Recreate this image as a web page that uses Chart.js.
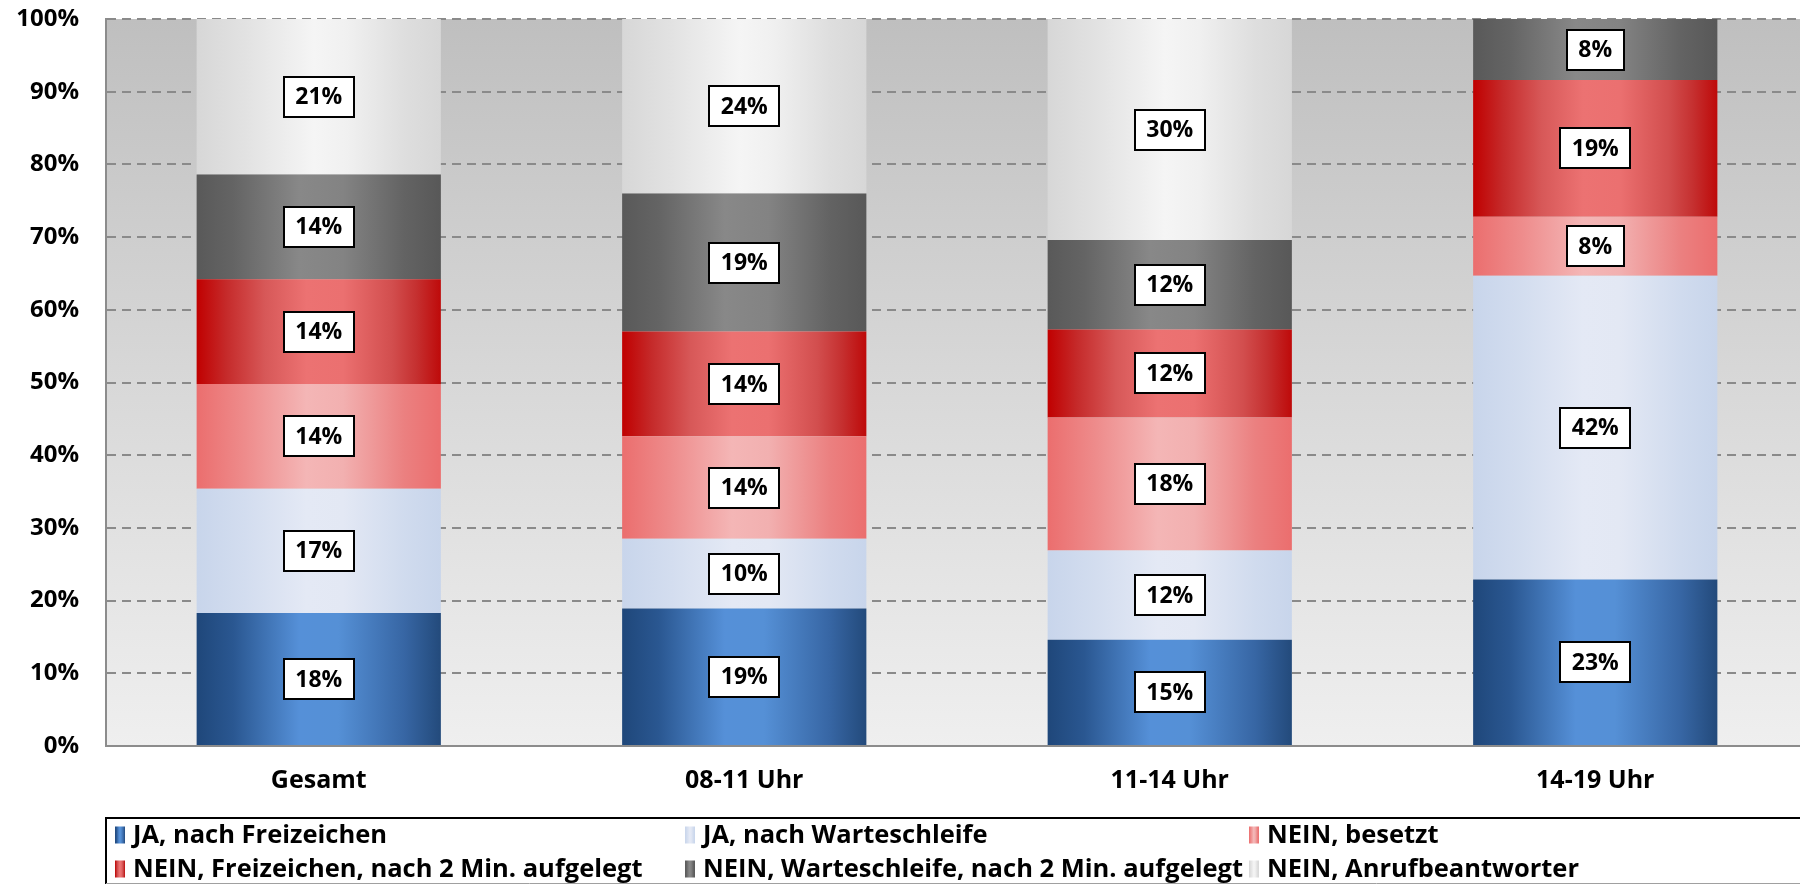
<!DOCTYPE html>
<html lang="de">
<head>
<meta charset="utf-8">
<title>Erreichbarkeit nach Uhrzeit</title>
<script src="https://cdn.jsdelivr.net/npm/chart.js@4/dist/chart.umd.min.js"></script>
<style>
  html, body { margin: 0; padding: 0; background: #ffffff; }
  #wrap { width: 1800px; height: 884px; position: relative; }
</style>
</head>
<body>
<div id="wrap"><canvas id="chart" width="1800" height="884"></canvas></div>
<script>
// Kategorien (Zeitfenster)
const categories = ['Gesamt', '08-11 Uhr', '11-14 Uhr', '14-19 Uhr'];

// Anteile je Ergebnis in Prozent (von unten nach oben gestapelt)
const jaFreizeichen        = [18.3, 18.9, 14.6, 22.9];
const jaWarteschleife      = [17.1,  9.6, 12.3, 41.8];
const neinBesetzt          = [14.4, 14.1, 18.3,  8.1];
const neinFreizeichen      = [14.4, 14.4, 12.1, 18.8];
const neinWarteschleife    = [14.4, 19.0, 12.3,  8.4];
const neinAnrufbeantworter = [21.4, 24.0, 30.4,  0];

// Reihennamen
const seriesLabels = [
  'JA, nach Freizeichen',
  'JA, nach Warteschleife',
  'NEIN, besetzt',
  'NEIN, Freizeichen, nach 2 Min. aufgelegt',
  'NEIN, Warteschleife, nach 2 Min. aufgelegt',
  'NEIN, Anrufbeantworter'
];

// Achsenbeschriftung
const yTickLabels = ['0%', '10%', '20%', '30%', '40%', '50%', '60%', '70%', '80%', '90%', '100%'];

const FONT = '"Open Sans", Lato, sans-serif';
const BAR_PCT = 0.574;
// Der Diagrammbereich läuft rechts etwas über den Rand hinaus
const PLOT_RIGHT = 1808;

// Horizontale Farbverläufe (Zylinder-Optik) je Reihe
const gradientStops = [
  [[0, '#1f477a'], [0.15, '#2a5791'], [0.42, '#5590d8'], [0.58, '#5590d6'], [0.85, '#3766a4'], [1, '#234a7b']],
  [[0, '#c8d5eb'], [0.2, '#d3ddef'], [0.45, '#e4e9f5'], [0.6, '#e3e8f4'], [0.85, '#d0dbee'], [1, '#c8d5eb']],
  [[0, '#eb6e6e'], [0.2, '#ee8c8c'], [0.45, '#f4b6b6'], [0.6, '#f2b0b0'], [0.85, '#eb8080'], [1, '#eb6e6e']],
  [[0, '#c00000'], [0.12, '#c52a2a'], [0.28, '#d75858'], [0.45, '#ec7272'], [0.6, '#eb7070'], [0.8, '#d24e4e'], [0.9, '#c53030'], [1, '#be0a0a']],
  [[0, '#595959'], [0.15, '#646464'], [0.42, '#888888'], [0.6, '#838383'], [0.85, '#636363'], [1, '#585858']],
  [[0, '#d7d7d7'], [0.2, '#e2e2e2'], [0.48, '#f5f5f5'], [0.62, '#f0f0f0'], [0.85, '#dedede'], [1, '#d7d7d7']]
];

function barFill(stops) {
  const fallback = stops[Math.floor(stops.length / 2)][1];
  return (ctx) => {
    const chart = ctx.chart;
    const xs = chart.scales && chart.scales.x;
    if (!xs || ctx.type !== 'data') return fallback;
    const cx = xs.getPixelForValue(ctx.dataIndex);
    const half = xs.width / categories.length * BAR_PCT / 2;
    if (!isFinite(cx) || !isFinite(half) || half <= 0) return fallback;
    const g = chart.ctx.createLinearGradient(cx - half, 0, cx + half, 0);
    stops.forEach(([o, c]) => g.addColorStop(o, c));
    return g;
  };
}

const seriesValues = [jaFreizeichen, jaWarteschleife, neinBesetzt, neinFreizeichen, neinWarteschleife, neinAnrufbeantworter];

const datasets = seriesValues.map((vals, i) => ({
  label: seriesLabels[i],
  data: vals,
  backgroundColor: barFill(gradientStops[i]),
  borderWidth: 0,
  stack: 'all',
  categoryPercentage: 1,
  barPercentage: BAR_PCT
}));

// Diagrammbereich nach rechts über den Canvasrand verlängern
const extendRight = {
  id: 'extendRight',
  afterLayout(chart) {
    const xs = chart.scales.x;
    if (!xs) return;
    xs.right = PLOT_RIGHT;
    xs.width = xs.right - xs.left;
    xs.configure();
    chart.chartArea.right = PLOT_RIGHT;
    chart.chartArea.width = PLOT_RIGHT - chart.chartArea.left;
    const ys = chart.scales.y;
    if (ys) ys._gridLineItems = null;
  }
};

// Hintergrund: weiße Fläche und grauer Verlauf im Diagrammbereich
const plotBackground = {
  id: 'plotBackground',
  beforeDraw(chart) {
    const { ctx, chartArea: a } = chart;
    ctx.save();
    ctx.fillStyle = '#ffffff';
    ctx.fillRect(0, 0, chart.width, chart.height);
    const g = ctx.createLinearGradient(0, a.top, 0, a.bottom);
    g.addColorStop(0, '#bfbfbf');
    g.addColorStop(0.5, '#d8d8d8');
    g.addColorStop(1, '#efefef');
    ctx.fillStyle = g;
    ctx.fillRect(a.left, a.top, a.right - a.left, a.bottom - a.top);
    ctx.restore();
  }
};

// Wertbeschriftungen in weißen Kästchen
const valueBoxes = {
  id: 'valueBoxes',
  afterDatasetsDraw(chart) {
    const c = chart.ctx;
    c.save();
    c.font = 'bold 23px ' + FONT;
    c.textAlign = 'center';
    c.textBaseline = 'middle';
    chart.data.datasets.forEach((ds, di) => {
      const meta = chart.getDatasetMeta(di);
      meta.data.forEach((el, i) => {
        const v = ds.data[i];
        if (!v) return;
        const { x, y, base } = el.getProps(['x', 'y', 'base'], true);
        const cy = (y + base) / 2;
        const txt = Math.round(v) + '%';
        const w = Math.round(c.measureText(txt).width + 23);
        const h = 40;
        const bx = Math.round(x - w / 2), by = Math.round(cy - h / 2);
        c.fillStyle = '#ffffff';
        c.fillRect(bx, by, w, h);
        c.lineWidth = 2;
        c.strokeStyle = '#000000';
        c.strokeRect(bx, by, w, h);
        c.fillStyle = '#000000';
        c.fillText(txt, x, cy + 1);
      });
    });
    c.restore();
  }
};

// Legende unten, drei Spalten in zwei Zeilen
const legendBox = {
  id: 'legendBox',
  afterDraw(chart) {
    const c = chart.ctx;
    const top = 818;
    const left = 106;
    c.save();
    c.strokeStyle = '#000000';
    c.lineWidth = 2;
    c.beginPath();
    c.moveTo(left, chart.height);
    c.lineTo(left, top);
    c.lineTo(chart.width, top);
    c.stroke();
    c.strokeStyle = '#a0a0a0';
    c.lineWidth = 1;
    c.beginPath();
    c.moveTo(left, chart.height - 0.5);
    c.lineTo(chart.width, chart.height - 0.5);
    c.stroke();

    const colX = [115, 685, 1249];
    const rowY = [836, 870];
    c.font = 'bold 25.5px ' + FONT;
    c.textAlign = 'left';
    c.textBaseline = 'middle';
    chart.data.datasets.forEach((ds, i) => {
      const x = colX[i % 3];
      const y = rowY[Math.floor(i / 3)];
      const sw = 10, sh = 17;
      const g = c.createLinearGradient(x, 0, x + sw, 0);
      gradientStops[i].forEach(([o, col]) => g.addColorStop(o, col));
      c.fillStyle = g;
      c.fillRect(x, y - sh / 2 - 1, sw, sh);
      c.fillStyle = '#000000';
      c.fillText(ds.label, x + 18, y);
    });
    c.restore();
  }
};

new Chart(document.getElementById('chart'), {
  type: 'bar',
  data: { labels: categories, datasets },
  plugins: [extendRight, plotBackground, valueBoxes, legendBox],
  options: {
    responsive: false,
    animation: false,
    events: [],
    layout: { padding: { top: 19, right: 0, bottom: 66, left: 0 } },
    plugins: {
      legend: { display: false },
      tooltip: { enabled: false },
      title: { display: false }
    },
    scales: {
      x: {
        stacked: true,
        grid: { display: false, drawTicks: false },
        border: { display: true, color: '#8c8c8c', width: 2 },
        ticks: {
          color: '#000000',
          padding: 20,
          font: { family: FONT, size: 25, weight: 'bold' }
        },
        afterFit(scale) { scale.height = 72; scale.paddingLeft = 0; scale.paddingRight = 0; }
      },
      y: {
        stacked: true,
        min: 0,
        max: 100,
        grid: {
          color: (ctx) => (ctx.tick && ctx.tick.value === 0) ? 'rgba(0,0,0,0)' : '#8a8a8a',
          lineWidth: 2,
          drawTicks: false
        },
        border: { display: true, color: '#8c8c8c', width: 2, dash: [9, 6] },
        ticks: {
          stepSize: 10,
          color: '#000000',
          padding: 27,
          font: { family: FONT, size: 24, weight: 'bold' },
          callback: (v, i) => yTickLabels[i]
        },
        afterFit(scale) { scale.width = 106; scale.paddingTop = 0; scale.paddingBottom = 0; }
      }
    }
  }
});
</script>
</body>
</html>
